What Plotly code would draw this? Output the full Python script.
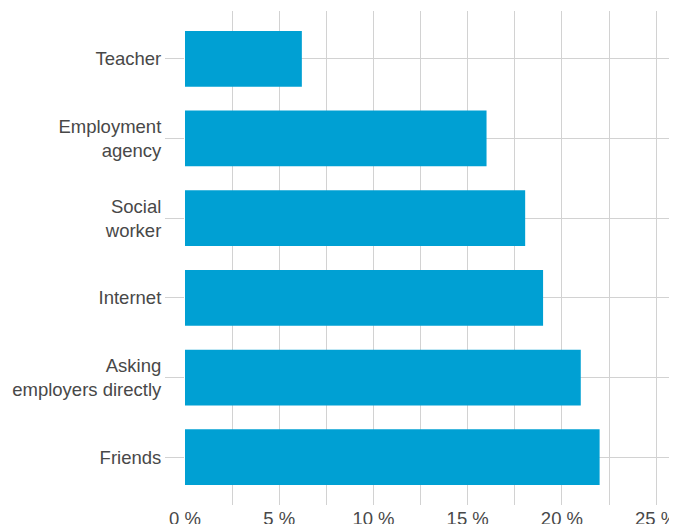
import plotly.graph_objects as go

categories = ["Friends", "Asking<br>employers directly", "Internet", "Social<br>worker", "Employment<br>agency", "Teacher"]
values = [22.0, 21.0, 19.0, 18.05, 16.0, 6.2]
tick_vals = [0, 5, 10, 15, 20, 25]
tick_text = ["0 %", "5 %", "10 %", "15 %", "20 %", "25 %"]

grid = "#d2d2d2"
text_color = "#484848"

fig = go.Figure(go.Bar(
    x=values, y=categories, orientation="h",
    marker=dict(color="#00a0d3", line=dict(width=0)),
    width=0.7,
))

# page body has an 8px margin; compensate so plot area matches the reference
fig.update_layout(
    width=677, height=524,
    margin=dict(l=177, r=10, t=3, b=27, autoexpand=False),
    paper_bgcolor="white", plot_bgcolor="white",
    font=dict(family="Liberation Sans, Arial, sans-serif", size=18.5, color=text_color),
    showlegend=False,
)
fig.update_xaxes(
    range=[0, 26], tickvals=tick_vals, ticktext=tick_text,
    showgrid=True, gridcolor=grid, gridwidth=1.3,
    minor=dict(dtick=2.5, tick0=0, showgrid=True, gridcolor=grid, gridwidth=1.3),
    zeroline=False, showline=False, ticks="", automargin=False,
    tickfont=dict(size=18.5, color=text_color),
)
fig.update_yaxes(
    range=[-0.6, 5.6], showgrid=True, gridcolor=grid, gridwidth=1.3,
    zeroline=False, showline=False, automargin=False,
    ticks="outside", ticklen=19, tickcolor=grid, tickwidth=1.3,
    tickfont=dict(size=18.5, color=text_color),
)

fig.write_html("out.html")
